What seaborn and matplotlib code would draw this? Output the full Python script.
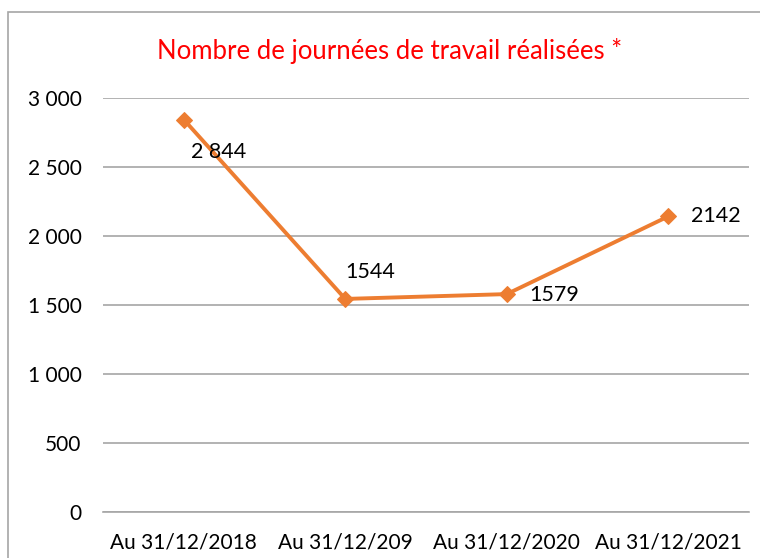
import matplotlib
matplotlib.use("Agg")
import matplotlib.pyplot as plt
from matplotlib.patches import Rectangle
from matplotlib.ticker import FuncFormatter
import seaborn as sns
import pandas as pd

categories = ["Au 31/12/2018", "Au 31/12/209", "Au 31/12/2020", "Au 31/12/2021"]
values = [2844, 1544, 1579, 2142]
value_labels = ["2 844", "1544", "1579", "2142"]
yticks = [0, 500, 1000, 1500, 2000, 2500, 3000]

sns.set_theme(style="white")
plt.rcParams["font.family"] = ["Lato", "DejaVu Sans"]

df = pd.DataFrame({"x": range(len(categories)), "y": values})

fig = plt.figure(figsize=(7.6, 5.58), dpi=100)
W, H = 760, 558
ax = fig.add_axes([103 / W, 1 - 512 / H, (749 - 103) / W, (512 - 98) / H])

# outer chart frame
fig.patches.append(Rectangle((8 / W, -0.1), 1.2, 1 - 12 / H + 0.1,
                             transform=fig.transFigure, fill=False,
                             edgecolor="#a6a6a6", linewidth=1.2))

sns.lineplot(data=df, x="x", y="y", ax=ax, color="#ED7D31", linewidth=2.8,
             marker="D", markersize=8, markeredgecolor="#ED7D31")

ax.set_xlim(-0.5, 3.5)
ax.set_ylim(0, 3000)
ax.set_yticks(yticks)
ax.yaxis.set_major_formatter(FuncFormatter(lambda v, p: f"{int(v):,}".replace(",", " ")))
ax.set_xticks(range(len(categories)))
ax.set_xticklabels(categories)
ax.grid(axis="y", color="#a6a6a6", linewidth=1.2)
ax.set_axisbelow(True)
for s in ["left", "right", "top"]:
    ax.spines[s].set_visible(False)
ax.spines["bottom"].set_color("#a6a6a6")
ax.spines["bottom"].set_linewidth(1.2)
ax.tick_params(axis="both", length=0, labelsize=15, colors="black")
ax.tick_params(axis="y", pad=15.5)
ax.tick_params(axis="x", pad=15)
ax.set_xlabel("")
ax.set_ylabel("")

# data labels
offsets = [(7, -32, "left"), (0, 27, "left"), (23, -1, "left"), (23, 0, "left")]
for i, (v, lab) in enumerate(zip(values, value_labels)):
    dx, dy, ha = offsets[i]
    ax.annotate(lab, (i, v), xytext=(dx * 0.72, dy * 0.72), textcoords="offset points",
                ha=ha, va="center", fontsize=15.5, color="black")

fig.text(390 / W, 1 - 51 / H, "Nombre de journées de travail réalisées *",
         ha="center", va="center", fontsize=18.5, color="#FF0000")

fig.savefig("out.png", dpi=100, facecolor="white")
